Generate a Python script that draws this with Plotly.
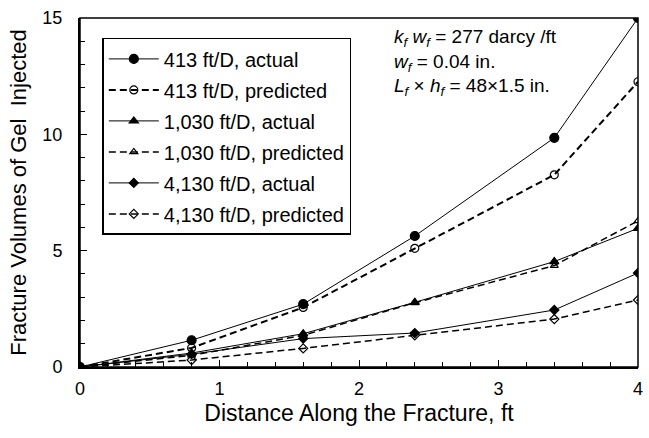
import plotly.graph_objects as go

distance = [0, 0.8, 1.6, 2.4, 3.4, 4.0]
v413_actual = [0, 1.15, 2.7, 5.63, 9.85, 15.0]
v413_pred = [0, 0.82, 2.56, 5.1, 8.26, 12.26]
v1030_actual = [0, 0.6, 1.43, 2.78, 4.53, 5.96]
v1030_pred = [0, 0.5, 1.36, 2.76, 4.36, 6.28]
v4130_actual = [0, 0.55, 1.22, 1.46, 2.45, 4.04]
v4130_pred = [0, 0.3, 0.8, 1.36, 2.06, 2.88]

series = [
    ("413 ft/D, actual", v413_actual, "solid", 1, "circle", 9),
    ("413 ft/D, predicted", v413_pred, "dash", 2, "circle-open", 8),
    ("1,030 ft/D, actual", v1030_actual, "solid", 1, "triangle-up", 8),
    ("1,030 ft/D, predicted", v1030_pred, "dash", 1.5, "triangle-up-open", 7),
    ("4,130 ft/D, actual", v4130_actual, "solid", 1, "diamond", 7),
    ("4,130 ft/D, predicted", v4130_pred, "dash", 1.5, "diamond-open", 7),
]

FONT = "Arial, Liberation Sans, sans-serif"
fig = go.Figure()
for i, (name, ys, dash, w, sym, sz) in enumerate(series):
    fig.add_trace(go.Scatter(
        x=distance, y=ys, name=name, mode="lines+markers",
        legendgroup=f"g{i}",
        line=dict(color="black", width=w, dash="7px,4px" if dash == "dash" else "solid"),
        marker=dict(symbol=sym, size=sz, color="black",
                    line=dict(color="black", width=1.2)),
    ))

fig.update_layout(
    width=649, height=438,
    margin=dict(l=80, r=6, t=18, b=71),
    paper_bgcolor="white", plot_bgcolor="white",
    font=dict(family=FONT, size=18, color="black"),
    showlegend=True,
    legend=dict(
        x=0.04, y=0.943, xanchor="left", yanchor="top",
        bordercolor="black", borderwidth=1.5, bgcolor="white",
        font=dict(family=FONT, size=20, color="black"),
        tracegroupgap=2, traceorder="grouped", itemwidth=50,
    ),
    xaxis=dict(
        range=[0, 4], tickvals=[0, 1, 2, 3, 4], ticks="inside", ticklen=7,
        tickcolor="black", tickwidth=1.2,
        minor=dict(dtick=0.2, ticks="inside", ticklen=5, tickcolor="black", tickwidth=1),
        showline=True, linecolor="black", linewidth=2, showgrid=False, zeroline=False,
        title=dict(text="Distance Along the Fracture, ft", font=dict(size=23), standoff=7),
        tickfont=dict(size=18), ticklabelstandoff=4,
    ),
    yaxis=dict(
        range=[0, 15], tickvals=[0, 5, 10, 15], ticks="inside", ticklen=7,
        tickcolor="black", tickwidth=1.2,
        minor=dict(dtick=1, ticks="inside", ticklen=5, tickcolor="black", tickwidth=1),
        showline=True, linecolor="black", linewidth=2, showgrid=False, zeroline=False,
        title=dict(text="Fracture Volumes of Gel  Injected", font=dict(size=22), standoff=10),
        tickfont=dict(size=18), ticklabelstandoff=12,
    ),
)

fig.add_shape(type="rect", xref="paper", yref="paper", x0=0, y0=0, x1=1, y1=1,
              line=dict(color="black", width=1.5), layer="above")

notes = [
    "<i>k<sub>f</sub> w<sub>f</sub></i> = 277 darcy /ft",
    "<i>w<sub>f</sub></i> = 0.04 in.",
    "<i>L<sub>f</sub></i> \u00d7 <i>h<sub>f</sub></i> = 48\u00d71.5 in.",
]
fig.add_annotation(x=2.24, y=14.75, xref="x", yref="y", text="<br>".join(notes),
                   showarrow=False, xanchor="left", yanchor="top", align="left",
                   font=dict(family=FONT, size=19, color="black"))

fig.write_html("out.html")
